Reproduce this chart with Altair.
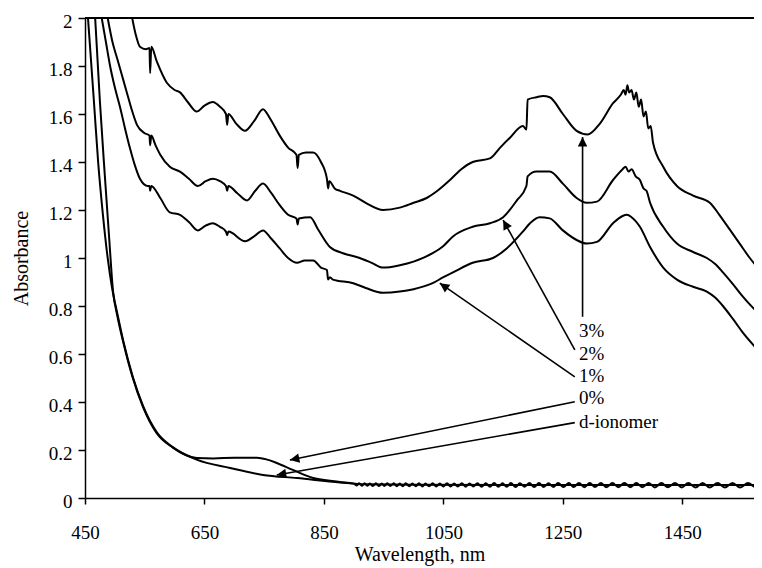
import math
import altair as alt
import pandas as pd

# ---------------- data ----------------
WL_3 = [529, 535, 542, 552, 558, 559, 561, 570, 587, 600, 609, 622, 637, 650, 664, 676, 686, 688, 690,
        703, 718, 733, 748, 760, 776, 790, 804, 806, 808, 820, 832, 845, 855, 857, 859, 868, 877, 899,
        920, 949, 977, 1000, 1022, 1040, 1061, 1080, 1099, 1128, 1145, 1161, 1183, 1189, 1191, 1206,
        1217, 1228, 1250, 1273, 1292, 1312, 1334, 1347, 1352, 1355, 1358, 1361, 1365, 1369, 1373, 1377,
        1381, 1385, 1389, 1393, 1397, 1401, 1418, 1441, 1468, 1496, 1512, 1529, 1546, 1563, 1583]
ABS_3 = [2.0, 1.93, 1.88, 1.87, 1.875, 1.77, 1.88, 1.82, 1.73, 1.70, 1.69, 1.65, 1.61, 1.635, 1.65, 1.63,
         1.60, 1.555, 1.60, 1.56, 1.53, 1.57, 1.62, 1.58, 1.51, 1.46, 1.43, 1.375, 1.43, 1.44, 1.44, 1.40,
         1.33, 1.29, 1.32, 1.29, 1.28, 1.26, 1.23, 1.20, 1.21, 1.23, 1.25, 1.28, 1.325, 1.37, 1.40, 1.415,
         1.46, 1.50, 1.55, 1.535, 1.66, 1.67, 1.675, 1.67, 1.60, 1.53, 1.515, 1.56, 1.645, 1.68, 1.70,
         1.68, 1.72, 1.69, 1.70, 1.66, 1.69, 1.63, 1.66, 1.59, 1.61, 1.54, 1.55, 1.48, 1.38, 1.30, 1.26,
         1.23, 1.18, 1.12, 1.06, 1.00, 0.94]

WL_2 = [488, 496, 504, 512, 520, 528, 537, 550, 558, 559, 561, 568, 576, 592, 609, 624, 639, 652, 664,
        676, 686, 688, 690, 705, 721, 735, 748, 762, 776, 790, 804, 806, 808, 827, 840, 860, 882, 910,
        930, 949, 977, 1000, 1032, 1050, 1066, 1099, 1128, 1150, 1173, 1189, 1191, 1206, 1217, 1228,
        1250, 1273, 1290, 1307, 1334, 1350, 1355, 1360, 1365, 1372, 1379, 1385, 1390, 1396, 1418, 1441,
        1468, 1491, 1505, 1518, 1535, 1551, 1583]
ABS_2 = [2.0, 1.90, 1.83, 1.76, 1.69, 1.62, 1.555, 1.52, 1.51, 1.47, 1.51, 1.47, 1.43, 1.38, 1.36, 1.33,
         1.30, 1.32, 1.33, 1.32, 1.30, 1.28, 1.30, 1.27, 1.24, 1.28, 1.31, 1.27, 1.22, 1.18, 1.165, 1.14,
         1.165, 1.17, 1.12, 1.046, 1.02, 1.00, 0.98, 0.96, 0.97, 0.985, 1.02, 1.05, 1.09, 1.13, 1.145,
         1.17, 1.24, 1.30, 1.34, 1.36, 1.36, 1.36, 1.31, 1.25, 1.23, 1.235, 1.325, 1.37, 1.38, 1.36, 1.37,
         1.34, 1.325, 1.29, 1.28, 1.23, 1.13, 1.06, 1.025, 1.00, 0.975, 0.94, 0.89, 0.84, 0.755]

WL_1 = [478, 485, 492, 500, 509, 517, 525, 533, 542, 555, 558, 559, 561, 576, 592, 609, 624, 639, 652,
        664, 676, 686, 688, 690, 718, 733, 748, 762, 776, 790, 805, 818, 832, 845, 855, 857, 860, 865,
        899, 920, 949, 977, 1000, 1032, 1050, 1066, 1099, 1133, 1156, 1183, 1195, 1211, 1228, 1250,
        1273, 1290, 1307, 1334, 1350, 1357, 1365, 1379, 1396, 1418, 1441, 1468, 1491, 1505, 1518, 1535,
        1551, 1583]
ABS_1 = [2.0, 1.90, 1.80, 1.71, 1.625, 1.54, 1.46, 1.39, 1.33, 1.30, 1.30, 1.28, 1.30, 1.25, 1.19, 1.18,
         1.15, 1.115, 1.135, 1.145, 1.13, 1.11, 1.095, 1.11, 1.07, 1.09, 1.115, 1.08, 1.04, 1.00, 0.98,
         0.99, 0.99, 0.96, 0.95, 0.91, 0.92, 0.91, 0.895, 0.875, 0.855, 0.86, 0.87, 0.895, 0.92, 0.94,
         0.98, 1.00, 1.04, 1.11, 1.145, 1.17, 1.165, 1.115, 1.075, 1.06, 1.067, 1.145, 1.175, 1.18, 1.17,
         1.13, 1.046, 0.96, 0.91, 0.88, 0.86, 0.835, 0.80, 0.745, 0.69, 0.60]

WL_0 = [467, 475, 483, 490, 497, 504, 514, 530, 547, 570, 597, 637, 665, 700, 738, 755, 771, 798, 832, 877]
ABS_0 = [2.0, 1.65, 1.35, 1.10, 0.86, 0.76, 0.65, 0.50, 0.38, 0.27, 0.21, 0.167, 0.165, 0.168, 0.168,
         0.16, 0.146, 0.117, 0.083, 0.067]

FRINGE_WL = [900, 905, 909, 914, 918, 923, 927, 932, 937, 942,
             947, 951, 956, 961, 967, 972, 977, 982, 987, 993,
             998, 1004, 1009, 1015, 1020, 1026, 1032, 1038, 1044, 1050,
             1056, 1062, 1068, 1074, 1081, 1087, 1094, 1100, 1107, 1114,
             1121, 1128, 1135, 1142, 1149, 1156, 1163, 1171, 1178, 1186,
             1194, 1202, 1210, 1218, 1226, 1234, 1242, 1251, 1260, 1268,
             1277, 1286, 1295, 1304, 1314, 1323, 1333, 1343, 1353, 1363,
             1373, 1383, 1394, 1404, 1415, 1426, 1438, 1449, 1460, 1472,
             1484, 1496, 1509, 1521, 1534, 1547, 1560, 1573, 1583]
FRINGE_ABS = [0.060, 0.052, 0.061, 0.051, 0.061, 0.051, 0.060, 0.050, 0.061, 0.050,
              0.060, 0.050, 0.061, 0.050, 0.061, 0.049, 0.060, 0.049, 0.061, 0.049,
              0.060, 0.049, 0.061, 0.048, 0.060, 0.049, 0.061, 0.048, 0.060, 0.048,
              0.061, 0.048, 0.060, 0.048, 0.061, 0.047, 0.060, 0.048, 0.061, 0.047,
              0.061, 0.047, 0.062, 0.047, 0.061, 0.047, 0.062, 0.046, 0.061, 0.047,
              0.062, 0.046, 0.062, 0.046, 0.061, 0.046, 0.062, 0.046, 0.062, 0.046,
              0.062, 0.045, 0.062, 0.046, 0.063, 0.045, 0.062, 0.045, 0.063, 0.045,
              0.062, 0.045, 0.063, 0.044, 0.062, 0.045, 0.063, 0.044, 0.062, 0.044,
              0.063, 0.044, 0.062, 0.044, 0.063, 0.044, 0.062, 0.045, 0.055]

WL_D = [455, 465, 472, 480, 488, 495, 504, 514, 530, 547, 570, 597, 637, 693, 748, 805, 877, 920, 1000, 1583]
ABS_D = [2.0, 1.65, 1.40, 1.18, 1.00, 0.88, 0.77, 0.655, 0.505, 0.385, 0.275, 0.212, 0.16, 0.125, 0.096,
         0.083, 0.065, 0.057, 0.055, 0.054]

LABELS = ["3%", "2%", "1%", "0%", "d-ionomer"]
LABEL_WL = [1277, 1277, 1277, 1277, 1277]
LABEL_ABS = [0.696, 0.602, 0.508, 0.415, 0.317]
ARROW_FROM_WL = [1283, 1270, 1270, 1270, 1270]
ARROW_FROM_ABS = [0.755, 0.617, 0.505, 0.401, 0.314]
ARROW_TO_WL = [1283, 1150, 1044, 793, 771]
ARROW_TO_ABS = [1.504, 1.158, 0.895, 0.158, 0.096]

X_TICKS = [450, 650, 850, 1050, 1250, 1450]
Y_TICKS = [0, 0.2, 0.4, 0.6, 0.8, 1.0, 1.2, 1.4, 1.6, 1.8, 2.0]
X_DOMAIN = [450, 1570]
Y_DOMAIN = [0, 2]

# ---------------- tables ----------------
W, H = 669, 480
FONT = "Liberation Serif"

series = [
    ("3%", WL_3, ABS_3),
    ("2%", WL_2, ABS_2),
    ("1%", WL_1, ABS_1),
    ("0%", WL_0 + FRINGE_WL, ABS_0 + FRINGE_ABS),
    ("d-ionomer", WL_D, ABS_D),
]
rows = []
for name, wls, abss in series:
    for w, a in zip(wls, abss):
        rows.append({"series": name, "wl": w, "abs": a})
curves = pd.DataFrame(rows)

px_per_nm = W / (X_DOMAIN[1] - X_DOMAIN[0])
px_per_abs = H / (Y_DOMAIN[1] - Y_DOMAIN[0])
arrows = []
for i in range(len(LABELS)):
    dx = (ARROW_TO_WL[i] - ARROW_FROM_WL[i]) * px_per_nm
    dy = -(ARROW_TO_ABS[i] - ARROW_FROM_ABS[i]) * px_per_abs
    ang = math.degrees(math.atan2(dx, -dy)) % 360
    arrows.append({"label": LABELS[i], "tx": LABEL_WL[i], "ty": LABEL_ABS[i],
                   "x0": ARROW_FROM_WL[i], "y0": ARROW_FROM_ABS[i],
                   "x1": ARROW_TO_WL[i], "y1": ARROW_TO_ABS[i], "ang": ang})
arrows = pd.DataFrame(arrows)

xscale = alt.Scale(domain=X_DOMAIN, nice=False, zero=False)
yscale = alt.Scale(domain=Y_DOMAIN, nice=False, zero=False)

common_axis = dict(
    grid=False, domainColor="black", domainWidth=1.5, tickColor="black", tickWidth=1.5,
    labelFont=FONT, labelFontSize=19, labelColor="black",
    titleFont=FONT, titleFontSize=20, titleFontWeight="normal", titleColor="black",
    labelOverlap=False, labelFlush=False, labelBound=False,
)
x_axis = alt.Axis(values=X_TICKS, title="Wavelength, nm", format="d", tickSize=6, labelPadding=19,
                  titleY=62, titleBaseline="alphabetic", **common_axis)
y_axis = alt.Axis(values=Y_TICKS, title="Absorbance", format="~g", tickSize=7, labelPadding=6,
                  labelOffset=3, titleX=-58, titleBaseline="alphabetic", **common_axis)

lines = alt.Chart(curves).mark_line(color="black", strokeWidth=2, clip=True,
                                    interpolate="monotone").encode(
    x=alt.X("wl:Q", scale=xscale, axis=x_axis),
    y=alt.Y("abs:Q", scale=yscale, axis=y_axis),
    detail="series:N",
    order=alt.Order("wl:Q"),
)

top_frame = alt.Chart(curves).mark_rule(color="black", strokeWidth=1.5).encode(
    y=alt.datum(Y_DOMAIN[1], scale=yscale)
)

shafts = alt.Chart(arrows).mark_rule(color="black", strokeWidth=1.6).encode(
    x=alt.X("x0:Q", scale=xscale, axis=x_axis),
    y=alt.Y("y0:Q", scale=yscale, axis=y_axis),
    x2="x1:Q",
    y2="y1:Q",
)

HEAD = "M0,0L-1,2L1,2Z"
heads = alt.Chart(arrows).mark_point(shape=HEAD, filled=True, color="black", opacity=1,
                                     size=90, strokeWidth=0).encode(
    x=alt.X("x1:Q", scale=xscale, axis=x_axis),
    y=alt.Y("y1:Q", scale=yscale, axis=y_axis),
    angle=alt.Angle("ang:Q", scale=None),
)

texts = alt.Chart(arrows).mark_text(align="left", baseline="middle", font=FONT, fontSize=19,
                                    color="black").encode(
    x=alt.X("tx:Q", scale=xscale, axis=x_axis),
    y=alt.Y("ty:Q", scale=yscale, axis=y_axis),
    text="label:N",
)

chart = alt.layer(lines, top_frame, shafts, heads, texts).properties(
    width=W, height=H,
    autosize="none",
    padding={"left": 77, "top": 10, "right": 0, "bottom": 70},
    background="white",
).configure_view(stroke=None)

chart.save("out.html", embed_options={"renderer": "svg", "actions": False})
